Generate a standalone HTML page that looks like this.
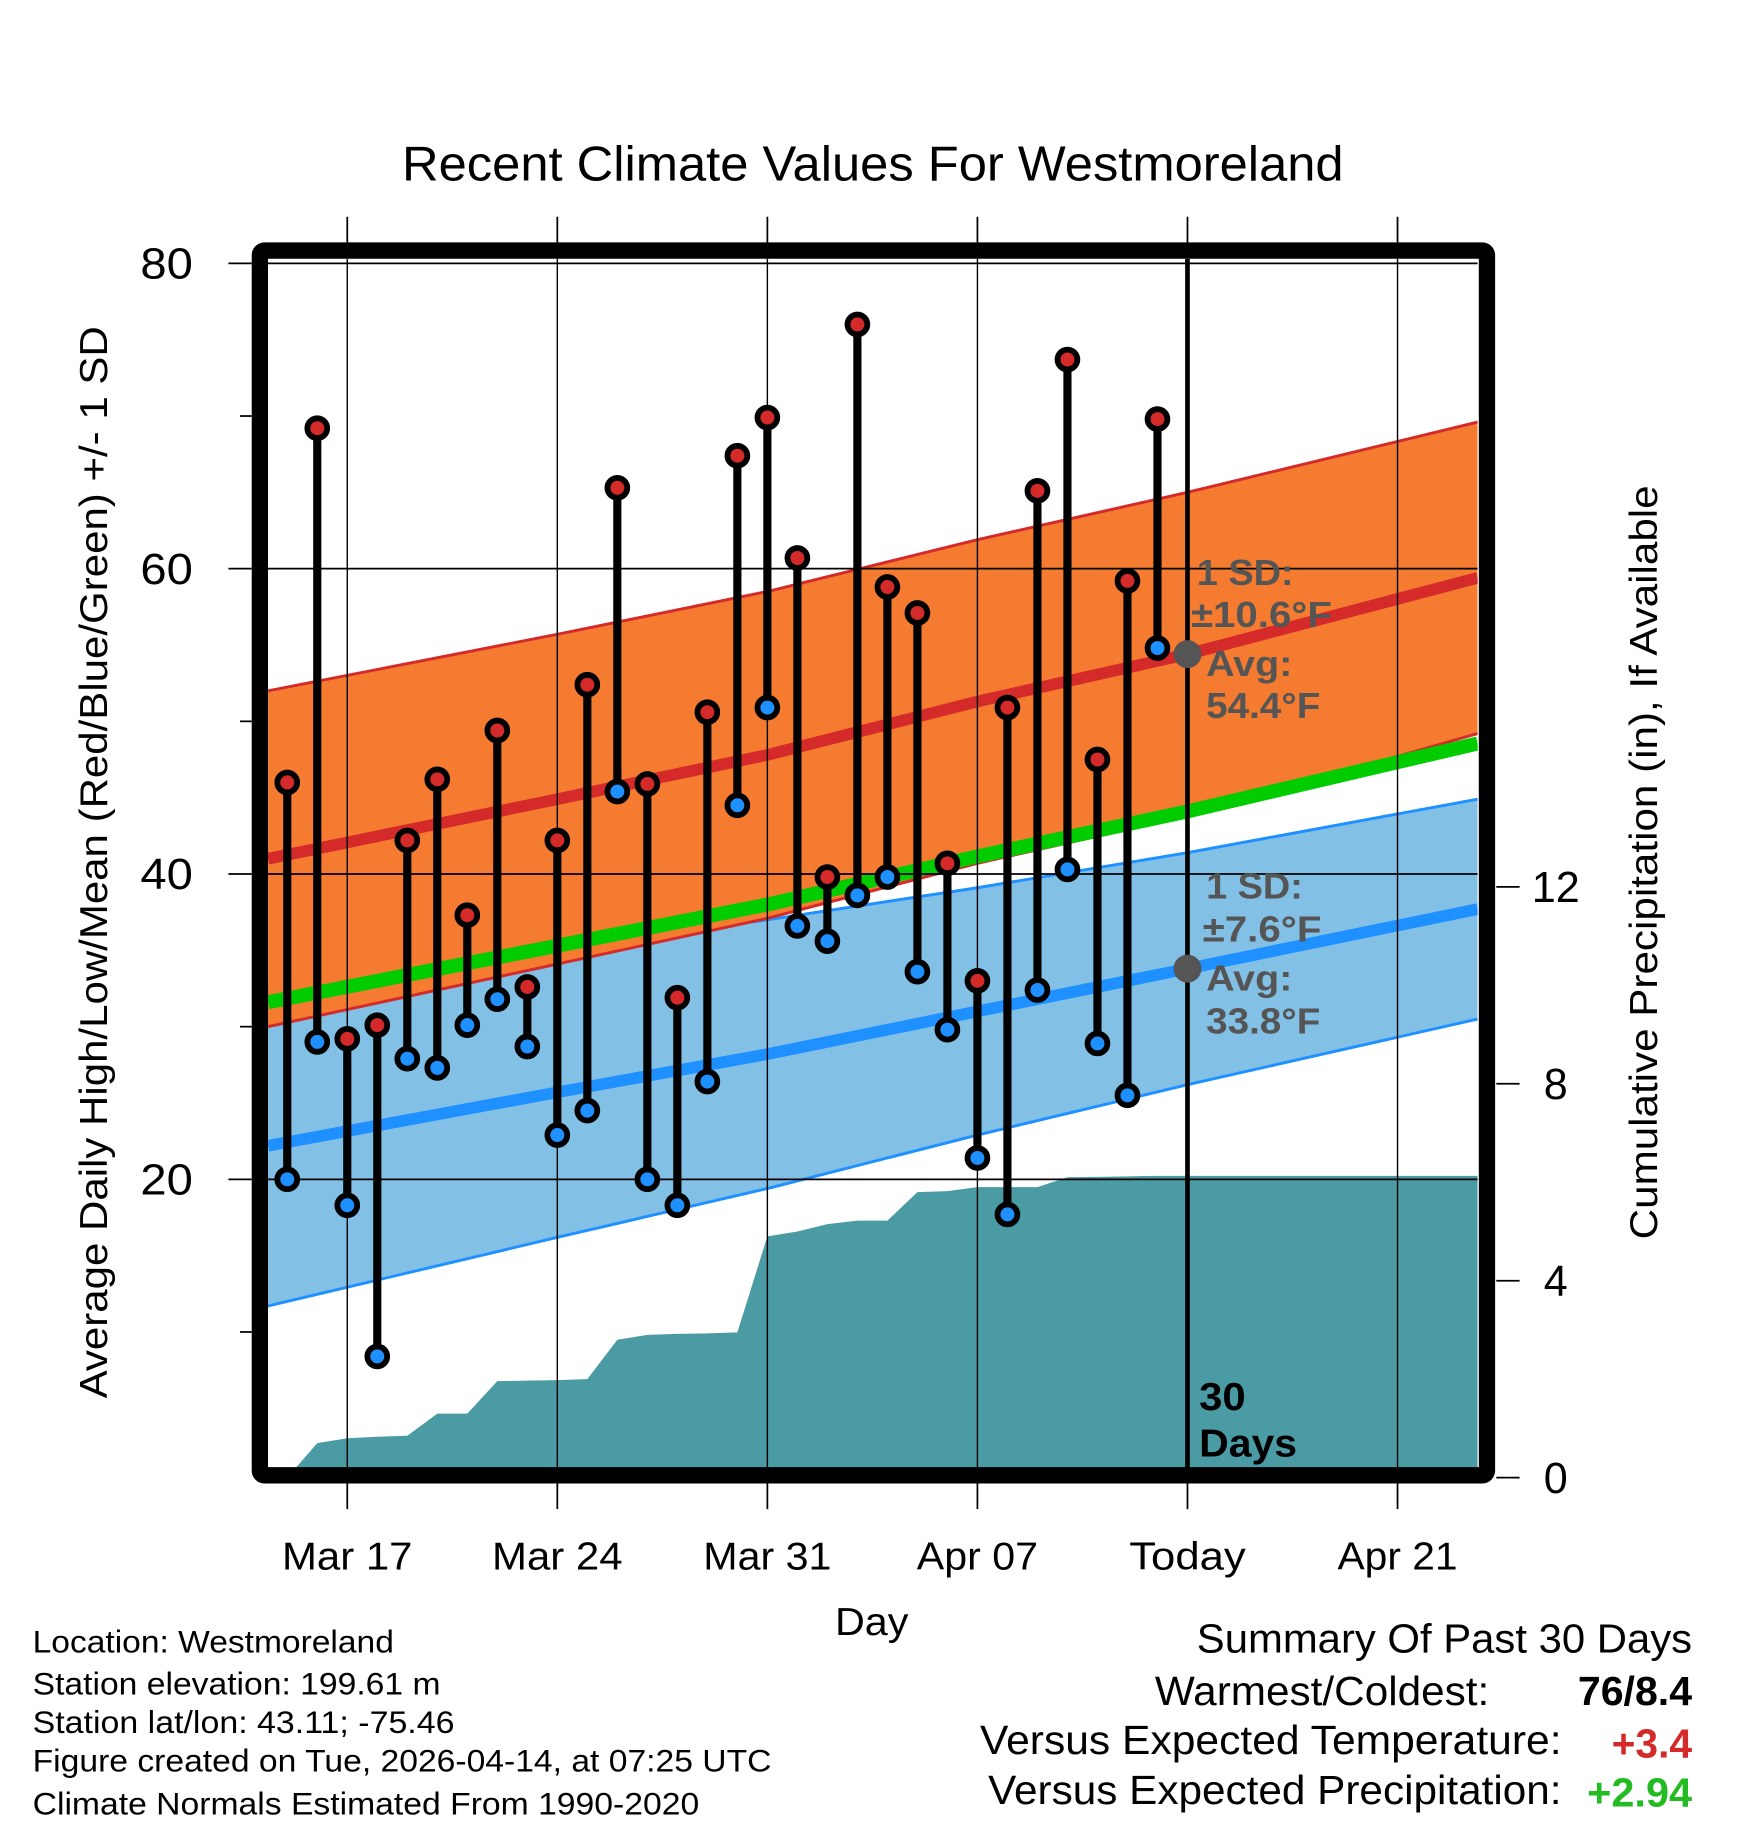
<!DOCTYPE html>
<html><head><meta charset="utf-8"><style>
html,body{margin:0;padding:0;background:#fff;}
svg{display:block;font-family:"Liberation Sans",sans-serif;}
</style></head><body>
<svg id="chart" width="1748" height="1828" viewBox="0 0 1500 1568.65" xmlns="http://www.w3.org/2000/svg">
<text x="749" y="155" font-size="42" text-anchor="middle" textLength="808" lengthAdjust="spacingAndGlyphs">Recent Climate Values For Westmoreland</text>
<g id="plot"></g>
</svg>
<script>
// ---- data ----
const days = ["Mar 15","Mar 16","Mar 17","Mar 18","Mar 19","Mar 20","Mar 21","Mar 22","Mar 23","Mar 24","Mar 25","Mar 26","Mar 27","Mar 28","Mar 29","Mar 30","Mar 31","Apr 01","Apr 02","Apr 03","Apr 04","Apr 05","Apr 06","Apr 07","Apr 08","Apr 09","Apr 10","Apr 11","Apr 12","Apr 13"];
const dayOffsets = [-2,-1,0,1,2,3,4,5,6,7,8,9,10,11,12,13,14,15,16,17,18,19,20,21,22,23,24,25,26,27];
const highs = [46,69.2,29.2,30.1,42.2,46.2,37.3,49.4,32.6,42.2,52.4,65.3,45.9,31.9,50.6,67.4,69.9,60.7,39.8,76,58.8,57.1,40.7,33,50.9,65.1,73.7,47.5,59.2,69.8];
const lows = [20,29,18.3,8.4,27.9,27.3,30.1,31.8,28.7,22.9,24.5,45.4,20,18.3,26.4,44.5,50.9,36.6,35.6,38.6,39.8,33.6,29.8,21.4,17.7,32.4,40.3,28.9,25.5,54.8];
const precip = [0,0.7,0.8,0.83,0.85,1.3,1.3,1.96,1.97,1.98,2.0,2.8,2.9,2.92,2.93,2.95,4.9,5.0,5.15,5.22,5.22,5.8,5.82,5.9,5.9,5.9,6.1,6.11,6.12,6.13];
const normDays = [-2.64,7,14,21,28,37.67];
const normHigh = [41,44.9,47.8,51.3,54.4,59.4];
const sdHigh = [11,10.8,10.7,10.6,10.6,10.2];
const normLow = [22.2,25.7,28.2,31,33.8,37.7];
const sdLow = [10.5,9.5,8.8,8.1,7.6,7.2];
const xTickDays = [0,7,14,21,28,35];
const xTickLabels = ["Mar 17","Mar 24","Mar 31","Apr 07","Today","Apr 21"];
const xTickWidths = [112,112,110,104,100,103];
const yTicks = [20,40,60,80];
const yMinor = [10,30,50,70];
const pTicks = [0,4,8,12];

// ---- axes ----
const L=230,R=1268,T=222,B=1260;
const X = d => 298 + 25.75*d;
const Y = v => 1274 - 13.1*v;
const P = p => 1268 - 42.25*p;
const NS="http://www.w3.org/2000/svg";
const g=document.getElementById('plot');
function mk(tag,attrs,parent){const e=document.createElementNS(NS,tag);for(const k in attrs)e.setAttribute(k,attrs[k]);(parent||g).appendChild(e);return e;}

const clip=mk('clipPath',{id:'pc'});mk('rect',{x:L,y:T,width:R-L,height:B-T},clip);
const inner=mk('g',{'clip-path':'url(#pc)'});

function bandPath(m,s,sign){return normDays.map((d,i)=>X(d).toFixed(1)+','+Y(m[i]+sign*s[i]).toFixed(1));}
let up=bandPath(normLow,sdLow,1), dn=bandPath(normLow,sdLow,-1);
let e=mk('polygon',{points:up.concat(dn.slice().reverse()).join(' '),fill:'#82c0e6'},inner);


mk('polyline',{points:up.join(' '),fill:'none',stroke:'#1e90ff','stroke-width':2.5},inner);
mk('polyline',{points:dn.join(' '),fill:'none',stroke:'#1e90ff','stroke-width':2.5},inner);
up=bandPath(normHigh,sdHigh,1); dn=bandPath(normHigh,sdHigh,-1);
e=mk('polygon',{points:up.concat(dn.slice().reverse()).join(' '),fill:'#f47b2f'},inner);


mk('polyline',{points:up.join(' '),fill:'none',stroke:'#d42a2a','stroke-width':2.5},inner);
mk('polyline',{points:dn.join(' '),fill:'none',stroke:'#d42a2a','stroke-width':2.5},inner);
e=mk('polyline',{points:normDays.map((d,i)=>X(d)+','+Y((normHigh[i]+normLow[i])/2)).join(' '),fill:'none',stroke:'#00cc00','stroke-width':12},inner);


e=mk('polyline',{points:normDays.map((d,i)=>X(d)+','+Y(normLow[i])).join(' '),fill:'none',stroke:'#1e90ff','stroke-width':10},inner);


e=mk('polyline',{points:normDays.map((d,i)=>X(d)+','+Y(normHigh[i])).join(' '),fill:'none',stroke:'#d42a2a','stroke-width':10},inner);


let pp=dayOffsets.map((d,i)=>X(d)+','+P(precip[i]));
pp.push(R+','+P(precip[precip.length-1]));
e=mk('polygon',{points:[X(dayOffsets[0])+','+B].concat(pp,[R+','+B]).join(' '),fill:'#4a9ba3'},inner);


yTicks.forEach(v=>mk('line',{x1:L,x2:R,y1:Y(v),y2:Y(v),stroke:'#000','stroke-width':1.5},inner));
xTickDays.forEach(d=>mk('line',{x1:X(d),x2:X(d),y1:T,y2:B,stroke:'#000','stroke-width':1.2},inner));
e=mk('line',{x1:X(28),x2:X(28),y1:T,y2:B,stroke:'#000','stroke-width':4},inner);


dayOffsets.forEach((d,i)=>{
  const sg=mk('g',{},inner);
  
  
  mk('line',{x1:X(d),x2:X(d),y1:Y(highs[i]),y2:Y(lows[i]),stroke:'#000','stroke-width':7},sg);
  mk('circle',{cx:X(d),cy:Y(highs[i]),r:8.5,fill:'#d42a2a',stroke:'#000','stroke-width':5},sg);
  mk('circle',{cx:X(d),cy:Y(lows[i]),r:8.5,fill:'#1e90ff',stroke:'#000','stroke-width':5},sg);
});
mk('circle',{cx:X(28),cy:Y(normHigh[4]),r:12,fill:'#555'},inner);
mk('circle',{cx:X(28),cy:Y(normLow[4]),r:12,fill:'#555'},inner);
function txt(s,x,y,attrs,name,w){const t=mk('text',Object.assign({x:x,y:y},attrs||{}));t.textContent=s;
  if(w){t.setAttribute('textLength',w);t.setAttribute('lengthAdjust','spacingAndGlyphs');}
  return t;}
const ga={fill:'#555','font-size':31,'font-weight':'bold'};
txt('1 SD:',1027,502,ga,'high-sd-label',83);
txt('±10.6°F',1022,538,ga,'high-sd-value',121);
txt('Avg:',1035,580,ga,'high-avg-label',74);
txt('54.4°F',1035,616,ga,'high-avg-value',98);
txt('1 SD:',1035,771,ga,'low-sd-label',83);
txt('±7.6°F',1032,808,ga,'low-sd-value',102);
txt('Avg:',1035,850,ga,'low-avg-label',74);
txt('33.8°F',1035,887,ga,'low-avg-value',98);
const ba={fill:'#000','font-size':33,'font-weight':'bold'};
txt('30',1029,1210,ba,'days-count',40);
txt('Days',1029,1250,ba,'days-label',84);
e=mk('rect',{x:223,y:215,width:1053,height:1051,fill:'none',stroke:'#000','stroke-width':14,rx:4});


yTicks.forEach(v=>{mk('line',{x1:196,x2:216,y1:Y(v),y2:Y(v),stroke:'#000','stroke-width':1.5});
  txt(String(v),143,Y(v)+13,{'font-size':37,'text-anchor':'middle'},'y-tick-'+v,45);});
yMinor.forEach(v=>mk('line',{x1:206,x2:216,y1:Y(v),y2:Y(v),stroke:'#000','stroke-width':1.5}));
xTickDays.forEach((d,i)=>{mk('line',{x1:X(d),x2:X(d),y1:186,y2:208,stroke:'#000','stroke-width':1.5});
  mk('line',{x1:X(d),x2:X(d),y1:1273,y2:1295,stroke:'#000','stroke-width':1.5});
  txt(xTickLabels[i],X(d),1347,{'font-size':33,'text-anchor':'middle'},'x-tick-'+i,xTickWidths[i]);});
pTicks.forEach(p=>{mk('line',{x1:1284,x2:1304,y1:P(p),y2:P(p),stroke:'#000','stroke-width':1.5});
  txt(String(p),1335,P(p)+13,{'font-size':37,'text-anchor':'middle'},'precip-tick-'+p);});
txt('Day',748,1403,{'font-size':33,'text-anchor':'middle'},'x-axis-title',63);
txt('Average Daily High/Low/Mean (Red/Blue/Green) +/- 1 SD',92,740,{'font-size':33,'text-anchor':'middle',transform:'rotate(-90 92 740)'},'y-axis-title',920);
txt('Cumulative Precipitation (in), If Available',1422,740,{'font-size':33,'text-anchor':'middle',transform:'rotate(-90 1422 740)'},'precip-axis-title',647);
const fl=['Location: Westmoreland','Station elevation: 199.61 m','Station lat/lon: 43.11; -75.46','Figure created on Tue, 2026-04-14, at 07:25 UTC','Climate Normals Estimated From 1990-2020'];
const fw=[310,350,362,634,572];
const fy=[1418,1454,1487,1520,1557];
fl.forEach((s,i)=>txt(s,28,fy[i],{'font-size':27},'footer-line-'+i,fw[i]));
txt('Summary Of Past 30 Days',1452,1418,{'font-size':35,'text-anchor':'end'},'summary-title',425);
txt('Warmest/Coldest:',1278,1463,{'font-size':35,'text-anchor':'end'},'warmest-coldest-label',287);
txt('76/8.4',1452,1463,{'font-size':35,'text-anchor':'end','font-weight':'bold'},'warmest-coldest-value',98);
txt('Versus Expected Temperature:',1340,1505,{'font-size':35,'text-anchor':'end'},'temp-anomaly-label',499);
txt('+3.4',1452,1508,{'font-size':35,'text-anchor':'end','font-weight':'bold',fill:'#d42a2a'},'temp-anomaly-value',69);
txt('Versus Expected Precipitation:',1340,1548,{'font-size':35,'text-anchor':'end'},'precip-anomaly-label',492);
txt('+2.94',1452,1550,{'font-size':35,'text-anchor':'end','font-weight':'bold',fill:'#22bb22'},'precip-anomaly-value',90);
</script>
</body></html>
